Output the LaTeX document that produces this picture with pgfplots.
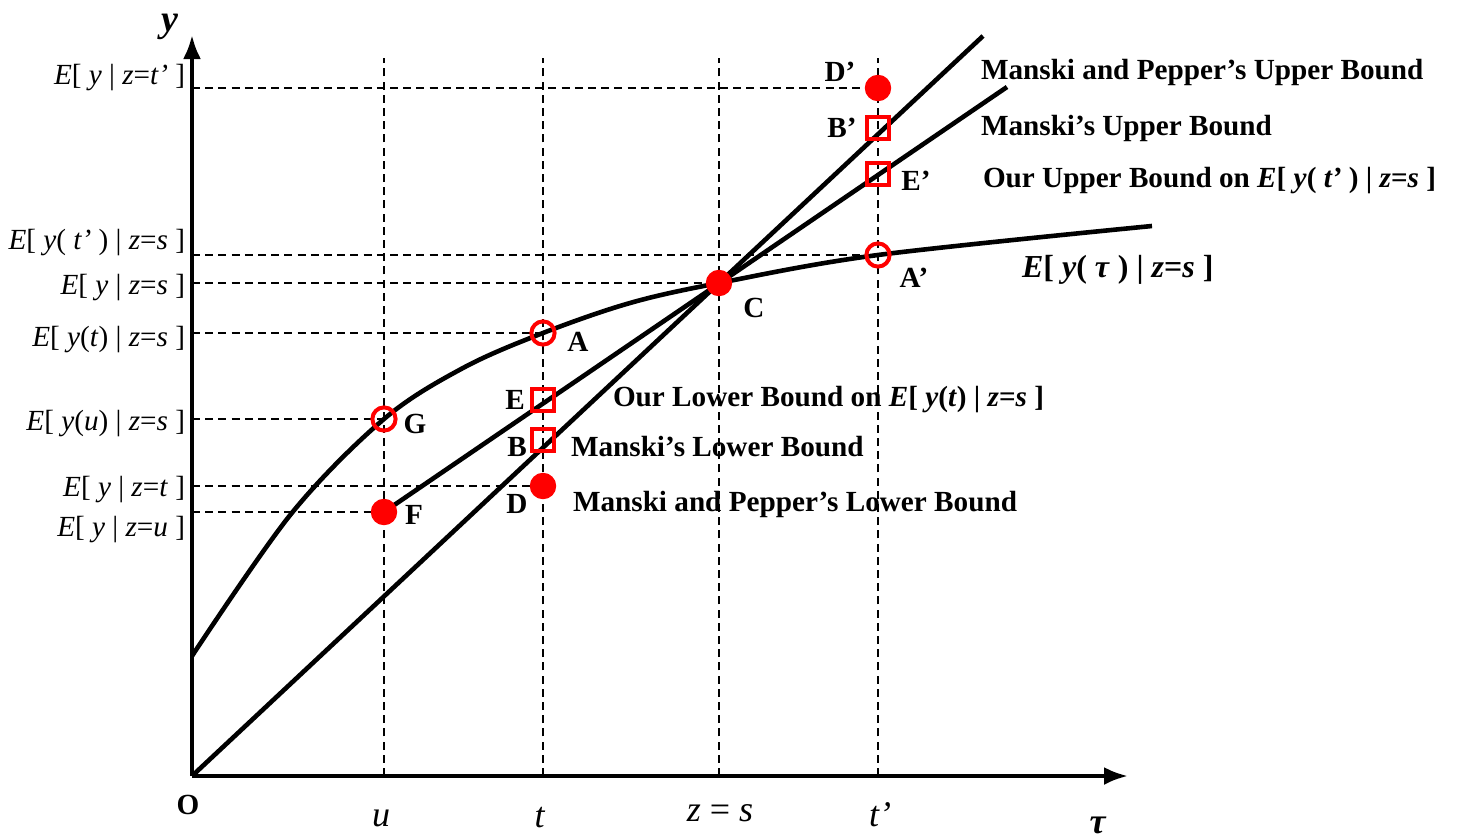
\documentclass[border=0pt]{standalone}
\usepackage{pgfplots}
\pgfplotsset{compat=1.18}
\usepackage{fontspec}
\setmainfont{Liberation Serif}
\usetikzlibrary{arrows.meta}
\newcommand{\I}[1]{\textit{#1}}
\newcommand{\BI}[1]{\textbf{\textit{#1}}}
\tikzset{lab/.style={inner sep=0pt, outer sep=0pt, font=\fontsize{7.3}{8.7}\selectfont}}
\begin{document}
\begin{tikzpicture}
\begin{axis}[
    scale only axis,
    width=364.25pt, height=209.25pt,
    xmin=-192, xmax=1265, ymin=-61, ymax=776,
    hide axis, clip=false,
    dashline/.style={black, line width=0.5pt, dash pattern=on 2pt off 1.3pt},
]
% guide lines
\addplot[dashline] coordinates {(0,688) (686,688)};
\addplot[dashline] coordinates {(0,521) (686,521)};
\addplot[dashline] coordinates {(0,493) (527,493)};
\addplot[dashline] coordinates {(0,443) (351,443)};
\addplot[dashline] coordinates {(0,357) (192,357)};
\addplot[dashline] coordinates {(0,290) (351,290)};
\addplot[dashline] coordinates {(0,264) (192,264)};
\addplot[dashline] coordinates {(192,0) (192,718)};
\addplot[dashline] coordinates {(351,0) (351,718)};
\addplot[dashline] coordinates {(527,0) (527,718)};
\addplot[dashline] coordinates {(686,0) (686,718)};

% axes
\addplot[black, line width=1pt, -{Latex[length=6pt,width=4.5pt]}] coordinates {(0,0) (936,0)};
\addplot[black, line width=1pt, -{Latex[length=6pt,width=4.5pt]}] coordinates {(0,0) (0,741)};

% E[y(tau)|z=s]
\addplot[black, line width=1.15pt, smooth, tension=0.55] coordinates {
  (0,120) (99,262) (192,357) (271,408) (351,443) (438,473) (527,493) (686,521) (960,550)};
% Manski bound line through O and C
\addplot[black, line width=1.15pt] coordinates {(0,0) (791,740)};
% our bound line through F and C
\addplot[black, line width=1.15pt] coordinates {(192,264) (815,689)};

% points
\addplot[only marks, mark=o, mark size=2.9pt, mark options={draw=red, line width=1pt}]
  coordinates {(192,357) (351,443) (686,521)};
\addplot[only marks, mark=*, mark size=3.1pt, mark options={draw=red, fill=red}]
  coordinates {(192,264) (351,290) (527,493) (686,688)};
\addplot[only marks, mark=square, mark size=2.75pt, mark options={draw=red, line width=1pt}]
  coordinates {(351,376) (351,336) (686,648) (686,602)};

% y-axis labels
\node[lab, anchor=east] at (axis cs:-7,698) {\I{E}[ \I{y} | \I{z}=\I{t’} ]};
\node[lab, anchor=east] at (axis cs:-7,533) {\I{E}[ \I{y}( \I{t’} ) | \I{z}=\I{s} ]};
\node[lab, anchor=east] at (axis cs:-7,488) {\I{E}[ \I{y} | \I{z}=\I{s} ]};
\node[lab, anchor=east] at (axis cs:-7,436) {\I{E}[ \I{y}(\I{t}) | \I{z}=\I{s} ]};
\node[lab, anchor=east] at (axis cs:-7,352) {\I{E}[ \I{y}(\I{u}) | \I{z}=\I{s} ]};
\node[lab, anchor=east] at (axis cs:-7,286) {\I{E}[ \I{y} | \I{z}=\I{t} ]};
\node[lab, anchor=east] at (axis cs:-7,246) {\I{E}[ \I{y} | \I{z}=\I{u} ]};

% x-axis labels
\node[lab] at (axis cs:-4,-29) {\textbf{O}};
\node[lab] at (axis cs:189,-42) {\fontsize{9}{10}\selectfont\I{u}};
\node[lab] at (axis cs:348,-42) {\fontsize{9}{10}\selectfont\I{t}};
\node[lab] at (axis cs:528,-37) {\fontsize{9}{10}\selectfont\I{z} = \I{s}};
\node[lab] at (axis cs:688,-39) {\fontsize{9}{10}\selectfont\I{t’}};
\node[lab] at (axis cs:906,-49) {\fontsize{9}{10}\selectfont\BI{τ}};
\node[lab] at (axis cs:-22,749) {\fontsize{9.5}{10}\selectfont\BI{y}};

% point labels
\node[lab] at (axis cs:648,704) {\textbf{D’}};
\node[lab] at (axis cs:650,648) {\textbf{B’}};
\node[lab] at (axis cs:724,595) {\textbf{E’}};
\node[lab] at (axis cs:722,498) {\textbf{A’}};
\node[lab] at (axis cs:562,468) {\textbf{C}};
\node[lab] at (axis cs:386,434) {\textbf{A}};
\node[lab] at (axis cs:223,352) {\textbf{G}};
\node[lab] at (axis cs:323,376) {\textbf{E}};
\node[lab] at (axis cs:325,329) {\textbf{B}};
\node[lab] at (axis cs:325,272) {\textbf{D}};
\node[lab] at (axis cs:222,261) {\textbf{F}};

% annotations
\node[lab, anchor=west] at (axis cs:789,704) {\textbf{Manski and Pepper’s Upper Bound}};
\node[lab, anchor=west] at (axis cs:789,648) {\textbf{Manski’s Upper Bound}};
\node[lab, anchor=west] at (axis cs:791,595) {\textbf{Our Upper Bound on \BI{E}[ \BI{y}( \BI{t’} ) | \BI{z}=\BI{s} ]}};
\node[lab, anchor=west] at (axis cs:830,506) {\fontsize{8}{9.5}\selectfont\textbf{\BI{E}[ \BI{y}( \BI{τ} ) | \BI{z}=\BI{s} ]}};
\node[lab, anchor=west] at (axis cs:421,376) {\textbf{Our Lower Bound on \BI{E}[ \BI{y}(\BI{t}) | \BI{z}=\BI{s} ]}};
\node[lab, anchor=west] at (axis cs:379,329) {\textbf{Manski’s Lower Bound}};
\node[lab, anchor=west] at (axis cs:381,272) {\textbf{Manski and Pepper’s Lower Bound}};
\end{axis}
\pgfresetboundingbox
\useasboundingbox (current axis.south west) rectangle (current axis.north east);
\end{tikzpicture}
\end{document}
